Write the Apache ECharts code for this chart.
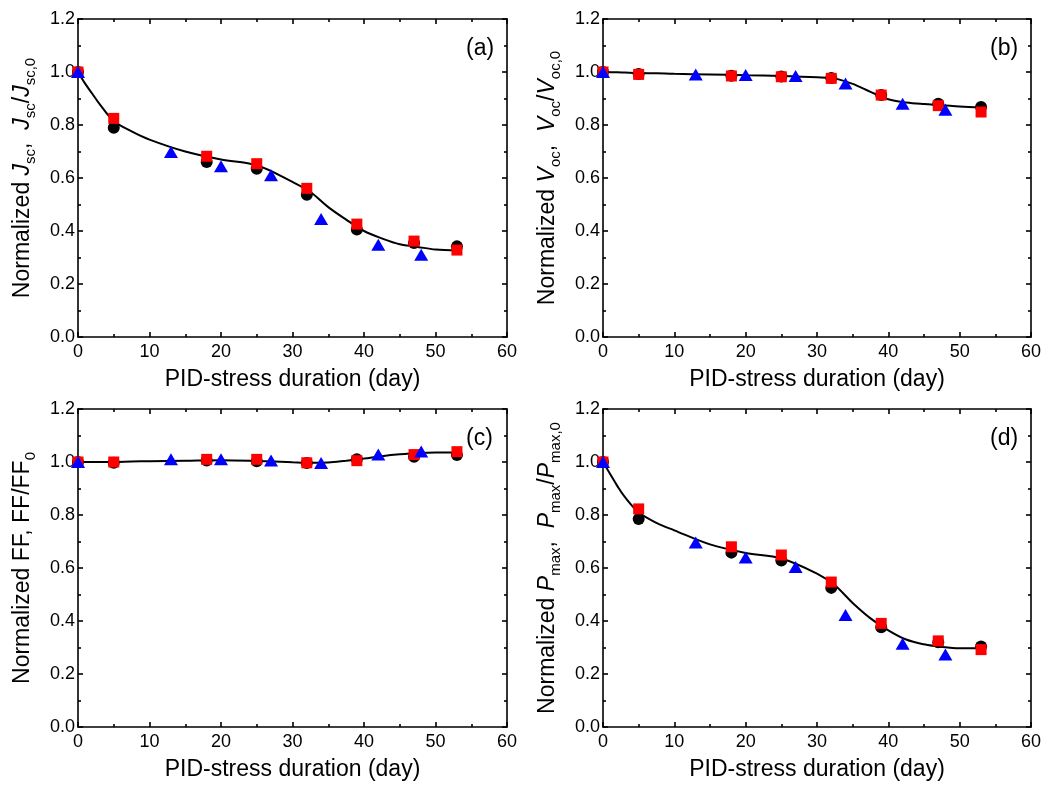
<!DOCTYPE html>
<html>
<head>
<meta charset="utf-8">
<script src="https://cdn.jsdelivr.net/npm/echarts@6/dist/echarts.min.js"></script>
<style>html,body{margin:0;padding:0;background:#fff}#c{width:1048px;height:789px}</style>
</head>
<body>
<div id="c"></div>
<script>
// ---- data ----
const xBR = [0, 5, 18, 25, 32, 39, 47, 53];
const xBlue = [0, 13, 20, 27, 34, 42, 48];
const fitX = [0, 1, 2, 3, 5, 7.5, 10, 15, 20, 25, 30, 32.5, 35, 37.5, 40, 42.5, 45, 47.5, 50, 53];

const aBlack = [1.0, 0.79, 0.66, 0.635, 0.537, 0.406, 0.355, 0.342];
const aRed   = [1.0, 0.825, 0.682, 0.654, 0.561, 0.426, 0.362, 0.328];
const aBlue  = [1.0, 0.698, 0.644, 0.61, 0.445, 0.348, 0.31];
const aFit   = [1.0, 0.956, 0.918, 0.88, 0.815, 0.776, 0.745, 0.70, 0.67, 0.648, 0.585, 0.547, 0.49, 0.443, 0.40, 0.372, 0.35, 0.34, 0.33, 0.326];

const bBlack = [1.0, 0.992, 0.986, 0.983, 0.977, 0.913, 0.88, 0.868];
const bRed   = [1.0, 0.991, 0.985, 0.982, 0.976, 0.913, 0.873, 0.849];
const bBlue  = [1.0, 0.991, 0.989, 0.985, 0.957, 0.88, 0.858];
const bFit   = [1.0, 0.9995, 0.999, 0.998, 0.996, 0.995, 0.993, 0.991, 0.988, 0.985, 0.98, 0.975, 0.955, 0.925, 0.897, 0.885, 0.879, 0.875, 0.87, 0.866];

const cBlack = [1.0, 0.997, 1.006, 1.003, 0.996, 1.01, 1.02, 1.026];
const cRed   = [1.0, 1.0, 1.01, 1.01, 0.997, 1.005, 1.028, 1.039];
const cBlue  = [1.0, 1.01, 1.01, 1.006, 0.996, 1.028, 1.04];
const cFit   = [1.0, 1.0, 1.0, 1.0, 1.0, 1.002, 1.003, 1.005, 1.007, 1.004, 0.999, 0.997, 0.998, 1.005, 1.013, 1.022, 1.029, 1.034, 1.036, 1.036];

const dBlack = [1.0, 0.785, 0.658, 0.628, 0.525, 0.376, 0.32, 0.304];
const dRed   = [1.0, 0.823, 0.68, 0.649, 0.547, 0.391, 0.325, 0.292];
const dBlue  = [1.0, 0.696, 0.64, 0.604, 0.423, 0.314, 0.274];
const dFit   = [1.0, 0.955, 0.91, 0.87, 0.81, 0.77, 0.742, 0.689, 0.657, 0.636, 0.579, 0.535, 0.468, 0.41, 0.365, 0.33, 0.312, 0.302, 0.297, 0.297];

const xTicks = [0, 10, 20, 30, 40, 50, 60];
const yTicks = [0.0, 0.2, 0.4, 0.6, 0.8, 1.0, 1.2];
const panelLabels = ['(a)', '(b)', '(c)', '(d)'];
const xName = 'PID-stress duration (day)';
const yNames = [
  '{n|Normalized }{i|J}{s|sc}{n|,  }{i|J}{s|sc}{n|/}{i|J}{s|sc,0}',
  '{n|Normalized }{i|V}{s|oc}{n|,  }{i|V}{s|oc}{n|/}{i|V}{s|oc,0}',
  '{n|Normalized FF, FF/FF}{s|0}',
  '{n|Normalized }{i|P}{s|max}{n|,  }{i|P}{s|max}{n|/}{i|P}{s|max,0}'
];
const panels = [
  {black: aBlack, red: aRed, blue: aBlue, fit: aFit},
  {black: bBlack, red: bRed, blue: bBlue, fit: bFit},
  {black: cBlack, red: cRed, blue: cBlue, fit: cFit},
  {black: dBlack, red: dRed, blue: dBlue, fit: dFit}
];

// ---- layout ----
const FONT = 'Liberation Sans, Arial, Helvetica, sans-serif';
const grids = [
  {left: 78, top: 19, width: 429, height: 318},
  {left: 603, top: 19, width: 428, height: 318},
  {left: 78, top: 409, width: 429, height: 318},
  {left: 603, top: 409, width: 428, height: 318}
];
const lineStyle = {color: '#000', width: 1.6};
const rich = {
  n: {fontSize: 23, fontFamily: FONT, color: '#000', lineHeight: 30, verticalAlign: 'middle'},
  i: {fontSize: 23, fontFamily: FONT, color: '#000', fontStyle: 'italic', lineHeight: 30, verticalAlign: 'middle'},
  s: {fontSize: 15, fontFamily: FONT, color: '#000', lineHeight: 15, verticalAlign: 'bottom'}
};

const xAxis = [], yAxis = [], series = [], title = [];
grids.forEach((g, k) => {
  xAxis.push({
    gridIndex: k, type: 'value', min: 0, max: 60, interval: 10, position: 'bottom',
    axisLine: {onZero: false, lineStyle},
    axisTick: {inside: true, length: 5, lineStyle},
    minorTick: {show: true, splitNumber: 2, length: 3, lineStyle},
    splitLine: {show: false},
    axisLabel: {fontSize: 18, fontFamily: FONT, color: '#000', margin: 6,
      formatter: v => xTicks.includes(v) ? String(v) : ''},
    name: xName, nameLocation: 'middle', nameGap: 31,
    nameTextStyle: {fontSize: 23, fontFamily: FONT, color: '#000'}
  });
  xAxis.push({
    gridIndex: k, type: 'value', min: 0, max: 60, interval: 10, position: 'top',
    axisLine: {onZero: false, lineStyle},
    axisTick: {inside: true, length: 5, lineStyle},
    minorTick: {show: true, splitNumber: 2, length: 3, lineStyle},
    splitLine: {show: false}, axisLabel: {show: false}
  });
  yAxis.push({
    gridIndex: k, type: 'value', min: 0, max: 1.2, interval: 0.2, position: 'left',
    axisLine: {onZero: false, lineStyle},
    axisTick: {inside: true, length: 5, lineStyle},
    minorTick: {show: true, splitNumber: 2, length: 3, lineStyle},
    splitLine: {show: false},
    axisLabel: {fontSize: 18, fontFamily: FONT, color: '#000', margin: 3,
      formatter: v => v.toFixed(1)},
    name: yNames[k], nameLocation: 'middle', nameRotate: 90, nameGap: 40,
    nameTextStyle: {rich}
  });
  yAxis.push({
    gridIndex: k, type: 'value', min: 0, max: 1.2, interval: 0.2, position: 'right',
    axisLine: {onZero: false, lineStyle},
    axisTick: {inside: true, length: 5, lineStyle},
    minorTick: {show: true, splitNumber: 2, length: 3, lineStyle},
    splitLine: {show: false}, axisLabel: {show: false}
  });
  const p = panels[k];
  const xi = 2 * k, yi = 2 * k;
  series.push({
    type: 'line', xAxisIndex: xi, yAxisIndex: yi, smooth: 0.35, showSymbol: false,
    lineStyle: {color: '#000', width: 2}, data: fitX.map((x, j) => [x, p.fit[j]]), z: 2, silent: true
  });
  series.push({
    type: 'scatter', xAxisIndex: xi, yAxisIndex: yi, symbol: 'circle', symbolSize: 12,
    itemStyle: {color: '#000', opacity: 1}, data: xBR.map((x, j) => [x, p.black[j]]), z: 3
  });
  series.push({
    type: 'scatter', xAxisIndex: xi, yAxisIndex: yi, symbol: 'rect', symbolSize: 11,
    itemStyle: {color: '#ff0000', opacity: 1}, data: xBR.map((x, j) => [x, p.red[j]]), z: 4
  });
  series.push({
    type: 'scatter', xAxisIndex: xi, yAxisIndex: yi, symbol: 'triangle', symbolSize: [14, 12],
    itemStyle: {color: '#0000ff', opacity: 1}, data: xBlue.map((x, j) => [x, p.blue[j]]), z: 5
  });
  title.push({
    text: panelLabels[k], left: g.left + g.width - 46, top: g.top + 13,
    textStyle: {fontSize: 23, fontWeight: 'normal', fontFamily: FONT, color: '#000'}
  });
});

const chart = echarts.init(document.getElementById('c'), null, {renderer: 'canvas'});
chart.setOption({
  animation: false,
  backgroundColor: '#fff',
  title, grid: grids, xAxis, yAxis, series
});
</script>
</body>
</html>
